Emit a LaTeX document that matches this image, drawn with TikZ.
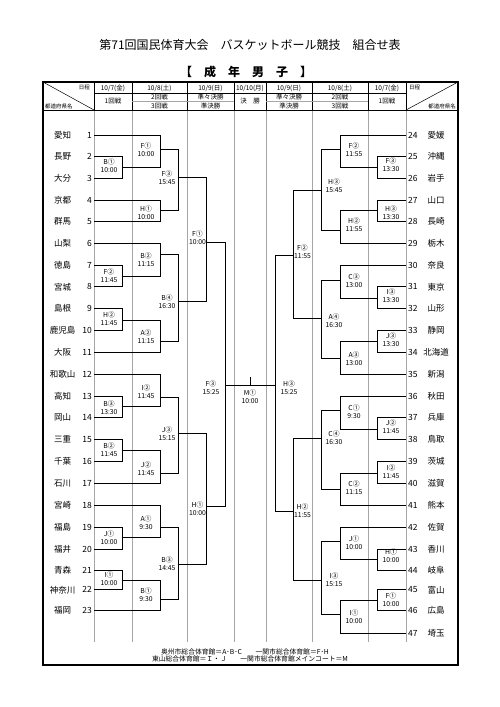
\documentclass[tikz,border=0pt]{standalone}
\usepackage{fontspec}
\setmainfont{Noto Sans CJK JP}
\begin{document}
\begin{tikzpicture}[x=1pt,y=-1pt,
  br/.style={line width=0.7pt,black},
  gridl/.style={line width=0.4pt,black!35},
  hd/.style={line width=0.5pt,black},
  lbl/.style={font=\fontsize{6.8}{8.3}\selectfont,align=center,inner sep=0pt},
  tnum/.style={font=\fontsize{8.5}{10}\selectfont,inner sep=0pt},
  tname/.style={font=\fontsize{8.5}{10}\selectfont,inner sep=0pt},
  hdt/.style={font=\fontsize{6.5}{7}\selectfont,inner sep=0pt},
  small/.style={font=\fontsize{5.5}{6}\selectfont,inner sep=0pt}]
\useasboundingbox (0,0) rectangle (500,707);
\newcommand\mt[3]{\draw[br] (#2) -- (#2 -| #1) -- (#3 -| #1) -- (#3);}
% title
\node[font=\fontsize{12}{14}\selectfont,inner sep=0pt] (title) at (250,45) {第71回国民体育大会　バスケットボール競技　組合せ表};
\node[font=\fontsize{12}{14}\selectfont\bfseries,inner sep=0pt] (sub) at (246,72) {【　成　年　男　子　】};
% frame and header
\draw[line width=1.1pt] (43,82) rectangle (458,665);
\foreach \x in {94,132,187,234,266,312,368,406} {
  \draw[hd] (\x,82) -- (\x,110);
  \draw[gridl] (\x,110) -- (\x,642);
}
\draw[hd] (94,93) -- (406,93);
\draw[hd] (43,110) -- (458,110);
\draw[gridl] (132,101.5) -- (234,101.5);
\draw[gridl] (266,101.5) -- (368,101.5);
\draw[hd] (43,82) -- (94,110);
\draw[hd] (406,110) -- (458,82);
\node[small,anchor=east] (nL) at (90,87) {日程};
\node[small,anchor=west] (nR) at (409,87) {日程};
\node[small,anchor=west] (pL) at (45,106) {都道府県名};
\node[small,anchor=east] (pR) at (456,106) {都道府県名};
\node[hdt] (d1) at (113,88) {10/7(金)};
\node[hdt] (d2) at (159.5,88) {10/8(土)};
\node[hdt] (d3) at (210.5,88) {10/9(日)};
\node[hdt] (d4) at (250,88) {10/10(月)};
\node[hdt] (d5) at (289,88) {10/9(日)};
\node[hdt] (d6) at (340,88) {10/8(土)};
\node[hdt] (d7) at (387,88) {10/7(金)};
\node[hdt] (r1) at (113,101.5) {1回戦};
\node[hdt] (r2) at (159.5,97.2) {2回戦};
\node[hdt] (r3) at (159.5,105.6) {3回戦};
\node[hdt] (r4) at (210.5,97.2) {準々決勝};
\node[hdt] (r5) at (210.5,105.6) {準決勝};
\node[hdt] (r6) at (250,101.5) {決　勝};
\node[hdt] (r7) at (289,97.2) {準々決勝};
\node[hdt] (r8) at (289,105.6) {準決勝};
\node[hdt] (r9) at (340,97.2) {2回戦};
\node[hdt] (r10) at (340,105.6) {3回戦};
\node[hdt] (r11) at (387,101.5) {1回戦};
% teams
\def\rowy{{135,156.7,178.3,200,221.3,243,265,286.8,308.5,330,352.3,374.5,396.5,417.5,439.5,461.3,483.3,505.5,527.3,549.2,570,589.8,610,633}}
\foreach \n [count=\i from 1] in {愛知,長野,大分,京都,群馬,山梨,徳島,宮城,島根,鹿児島,大阪,和歌山,高知,岡山,三重,千葉,石川,宮崎,福島,福井,青森,神奈川,福岡} {
  \pgfmathsetmacro\yy{\rowy[\i-1]}
  \node[tname] (nm\i) at (62.5,\yy) {\n};
  \node[tnum,anchor=east] (n\i) at (92,\yy) {\i};
  \coordinate (T\i) at (94,\yy);
}
\foreach \n [count=\i from 24] in {愛媛,沖縄,岩手,山口,長崎,栃木,奈良,東京,山形,静岡,北海道,新潟,秋田,兵庫,鳥取,茨城,滋賀,熊本,佐賀,香川,岐阜,富山,広島,埼玉} {
  \pgfmathsetmacro\yy{\rowy[\i-24]}
  \node[tname] (nm\i) at (436,\yy) {\n};
  \node[tnum,anchor=west] (n\i) at (408,\yy) {\i};
  \coordinate (T\i) at (406,\yy);
}
% left match points
\coordinate (LB1) at (122.7,167.7); \coordinate (LF2) at (122.7,276.7);
\coordinate (LH2) at (122.7,320);   \coordinate (LB3) at (122.7,406.7);
\coordinate (LB2) at (122.7,450);   \coordinate (LJ1) at (122.7,537.3);
\coordinate (LI1) at (122.7,580);
\coordinate (LF1) at (160,149.3);   \coordinate (LH1) at (160,210);
\coordinate (LB2b) at (160,254.3);  \coordinate (LA2) at (160,341.7);
\coordinate (LI2) at (160,397.7);   \coordinate (LJ2) at (160,473.3);
\coordinate (LA1) at (160,527.7);   \coordinate (LB1b) at (160,599);
\coordinate (LF3) at (178.3,177.3); \coordinate (LB4) at (178.3,301.7);
\coordinate (LJ3) at (178.3,433.3); \coordinate (LB3b) at (178.3,564);
\coordinate (LQF1) at (206.7,242.7); \coordinate (LQH1) at (206.7,506.7);
\coordinate (LSF) at (225,385);
% right match points
\coordinate (RF3) at (377.7,167.7); \coordinate (RH3) at (377.7,210);
\coordinate (RI3) at (377.7,298.3); \coordinate (RJ3) at (377.7,341.7);
\coordinate (RJ2) at (377.7,429);   \coordinate (RI2) at (377.7,473.3);
\coordinate (RH1) at (377.7,559);   \coordinate (RF1) at (377.7,600.7);
\coordinate (RF2) at (340,149.3);   \coordinate (RH2) at (340,230);
\coordinate (RC3) at (340,280.7);   \coordinate (RA3) at (340,358);
\coordinate (RC1) at (340,410.7);   \coordinate (RC2) at (340,489.3);
\coordinate (RJ1) at (340,541.7);   \coordinate (RI1) at (340,614);
\coordinate (RH3b) at (321.7,190);  \coordinate (RA4) at (321.7,318.3);
\coordinate (RC4) at (321.7,438.3); \coordinate (RI3b) at (321.7,580);
\coordinate (RQF2) at (293.3,255);  \coordinate (RQH2) at (293.3,511.7);
\coordinate (RSF) at (275,385);
\coordinate (M) at (250,385);
% left brackets
\mt{LB1}{T2}{T3} \mt{LF2}{T7}{T8} \mt{LH2}{T9}{T10} \mt{LB3}{T13}{T14}
\mt{LB2}{T15}{T16} \mt{LJ1}{T19}{T20} \mt{LI1}{T21}{T22}
\mt{LF1}{T1}{LB1} \mt{LH1}{T4}{T5} \mt{LB2b}{T6}{LF2} \mt{LA2}{LH2}{T11}
\mt{LI2}{T12}{LB3} \mt{LJ2}{LB2}{T17} \mt{LA1}{T18}{LJ1} \mt{LB1b}{LI1}{T23}
\mt{LF3}{LF1}{LH1} \mt{LB4}{LB2b}{LA2} \mt{LJ3}{LI2}{LJ2} \mt{LB3b}{LA1}{LB1b}
\mt{LQF1}{LF3}{LB4} \mt{LQH1}{LJ3}{LB3b}
\mt{LSF}{LQF1}{LQH1}
% right brackets
\mt{RF3}{T25}{T26} \mt{RH3}{T27}{T28} \mt{RI3}{T31}{T32} \mt{RJ3}{T33}{T34}
\mt{RJ2}{T37}{T38} \mt{RI2}{T39}{T40} \mt{RH1}{T43}{T44} \mt{RF1}{T45}{T46}
\mt{RF2}{T24}{RF3} \mt{RH2}{RH3}{T29} \mt{RC3}{T30}{RI3} \mt{RA3}{RJ3}{T35}
\mt{RC1}{T36}{RJ2} \mt{RC2}{RI2}{T41} \mt{RJ1}{T42}{RH1} \mt{RI1}{RF1}{T47}
\mt{RH3b}{RF2}{RH2} \mt{RA4}{RC3}{RA3} \mt{RC4}{RC1}{RC2} \mt{RI3b}{RJ1}{RI1}
\mt{RQF2}{RH3b}{RA4} \mt{RQH2}{RC4}{RI3b}
\mt{RSF}{RQF2}{RQH2}
% final
\draw[br] (LSF) -- (RSF);
\draw[br] (M) -- ++(0,-8);
\node[lbl] (lM) at (250,397) {M①\\10:00};
% left labels
\foreach \t/\s/\x/\y in {B①/10:00/109/166, F②/11:45/109/276, H②/11:45/109/319, B③/13:30/109/407.5, B②/11:45/109/450, J①/10:00/109/537.5, I①/10:00/109/579,
 F①/10:00/146/150, H①/10:00/146/213, B②/11:15/146/259.5, A②/11:15/146/337, I②/11:45/146/391.5, J②/11:45/146/468.5, A①/9:30/146/522.5, B①/9:30/146/594.5,
 F③/15:45/167/177.5, B④/16:30/167/302, J③/15:15/167/433.5, B③/14:45/167/564,
 F①/10:00/197.5/238, H①/10:00/197.5/509, F③/15:25/211/387.5,
 F③/13:30/391/165, H③/13:30/391/213, I③/13:30/391/296, J③/13:30/391/340, J②/11:45/391/427, I②/11:45/391/472, H①/10:00/391/556, F①/10:00/391/600,
 F②/11:55/354/150, H②/11:55/354/225, C③/13:00/354/281, A③/13:00/354/359, C①/9:30/354/412, C②/11:15/354/488, J①/10:00/354/543, I①/10:00/354/617,
 H③/15:45/334/186, A④/16:30/334/321, C④/16:30/334/438, I③/15:15/334/580,
 F②/11:55/302.5/252, H②/11:55/302.5/511, H③/15:25/289/387.5} {
  \node[lbl] (lab-\x-\y) at (\x,\y) {\t\\\s};
}
% footer
\node[font=\fontsize{6.8}{8}\selectfont,inner sep=0pt] (f1) at (245,651.5) {奥州市総合体育館＝A･B･C　　一関市総合体育館＝F･H};
\node[font=\fontsize{6.8}{8}\selectfont,inner sep=0pt] (f2) at (250,659) {東山総合体育館＝Ｉ・Ｊ　　一関市総合体育館メインコート＝M};
\end{tikzpicture}
\end{document}
